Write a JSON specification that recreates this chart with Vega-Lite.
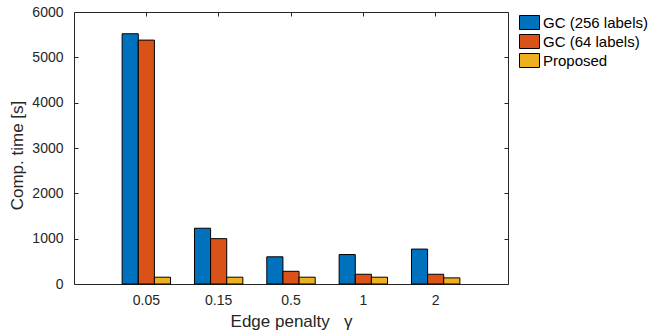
{
  "$schema": "https://vega.github.io/schema/vega-lite/v6.json",
  "width": 434,
  "height": 272,
  "autosize": {"type": "none"},
  "padding": {"left": 74, "top": 12, "right": 143, "bottom": 51},
  "background": "white",
  "config": {
    "view": {"stroke": null},
    "font": "Liberation Sans",
    "legend": {"rowPadding": 0},
    "axis": {
      "domain": true,
      "domainColor": "#262626",
      "domainWidth": 1,
      "tickColor": "#262626",
      "tickWidth": 1,
      "labelColor": "#262626",
      "titleColor": "#262626",
      "labelFont": "Liberation Sans",
      "titleFont": "Liberation Sans",
      "labelFontSize": 14,
      "titleFontSize": 17,
      "titleFontWeight": "normal",
      "tickSize": -4,
      "grid": false
    }
  },
  "data": {
    "values": [
      {"gamma": "0.05", "method": "GC (256 labels)", "time": 5520},
      {"gamma": "0.05", "method": "GC (64 labels)", "time": 5380},
      {"gamma": "0.05", "method": "Proposed", "time": 150},
      {"gamma": "0.15", "method": "GC (256 labels)", "time": 1230},
      {"gamma": "0.15", "method": "GC (64 labels)", "time": 1000},
      {"gamma": "0.15", "method": "Proposed", "time": 150},
      {"gamma": "0.5", "method": "GC (256 labels)", "time": 600},
      {"gamma": "0.5", "method": "GC (64 labels)", "time": 280},
      {"gamma": "0.5", "method": "Proposed", "time": 150},
      {"gamma": "1", "method": "GC (256 labels)", "time": 650},
      {"gamma": "1", "method": "GC (64 labels)", "time": 215},
      {"gamma": "1", "method": "Proposed", "time": 150},
      {"gamma": "2", "method": "GC (256 labels)", "time": 770},
      {"gamma": "2", "method": "GC (64 labels)", "time": 215},
      {"gamma": "2", "method": "Proposed", "time": 135}
    ]
  },
  "resolve": {"axis": {"x": "independent", "y": "independent"}},
  "layer": [
    {
      "mark": {"type": "bar", "stroke": "#000000", "strokeWidth": 1},
      "encoding": {
        "x": {
          "field": "gamma",
          "type": "nominal",
          "sort": ["0.05", "0.15", "0.5", "1", "2"],
          "scale": {"paddingInner": 0.331, "paddingOuter": 0.6655},
          "axis": {
            "orient": "bottom",
            "labelAngle": 0,
            "labelPadding": 13,
            "title": "Edge penalty\u00a0\u00a0\u00a0γ",
            "titleX": 217,
            "titleY": 42,
            "titleBaseline": "alphabetic",
            "titleAlign": "center"
          }
        },
        "xOffset": {
          "field": "method",
          "type": "nominal",
          "sort": ["GC (256 labels)", "GC (64 labels)", "Proposed"],
          "scale": {"paddingInner": 0, "paddingOuter": 0}
        },
        "y": {
          "field": "time",
          "type": "quantitative",
          "scale": {"domain": [0, 6000], "nice": false},
          "axis": {
            "orient": "left",
            "values": [0, 1000, 2000, 3000, 4000, 5000, 6000],
            "format": "d",
            "labelPadding": 15,
            "title": "Comp. time [s]",
            "titleAngle": 270,
            "titleX": -52,
            "titleY": 143,
            "titleBaseline": "alphabetic",
            "titleAlign": "center"
          }
        },
        "color": {
          "field": "method",
          "type": "nominal",
          "sort": ["GC (256 labels)", "GC (64 labels)", "Proposed"],
          "scale": {
            "domain": ["GC (256 labels)", "GC (64 labels)", "Proposed"],
            "range": ["#0072BD", "#D95319", "#EDB120"]
          },
          "legend": {
            "title": null,
            "orient": "none",
            "legendX": 448,
            "legendY": 3,
            "padding": 0,
            "symbolType": "M-1.43,-1L1.43,-1L1.43,1L-1.43,1Z",
            "symbolSize": 196,
            "symbolStrokeColor": "#000000",
            "symbolStrokeWidth": 1,
            "symbolOpacity": 1,
            "labelFont": "Liberation Sans",
            "labelFontSize": 15,
            "labelColor": "#000000",
            "labelOffset": 6,
            "rowPadding": 0
          }
        }
      }
    },
    {
      "mark": {"type": "bar", "opacity": 0},
      "encoding": {
        "x": {
          "field": "gamma",
          "type": "nominal",
          "sort": ["0.05", "0.15", "0.5", "1", "2"],
          "axis": {"orient": "top", "labels": false, "title": null}
        },
        "y": {
          "field": "time",
          "type": "quantitative",
          "axis": {
            "orient": "right",
            "values": [0, 1000, 2000, 3000, 4000, 5000, 6000],
            "labels": false,
            "title": null
          }
        }
      }
    }
  ]
}
